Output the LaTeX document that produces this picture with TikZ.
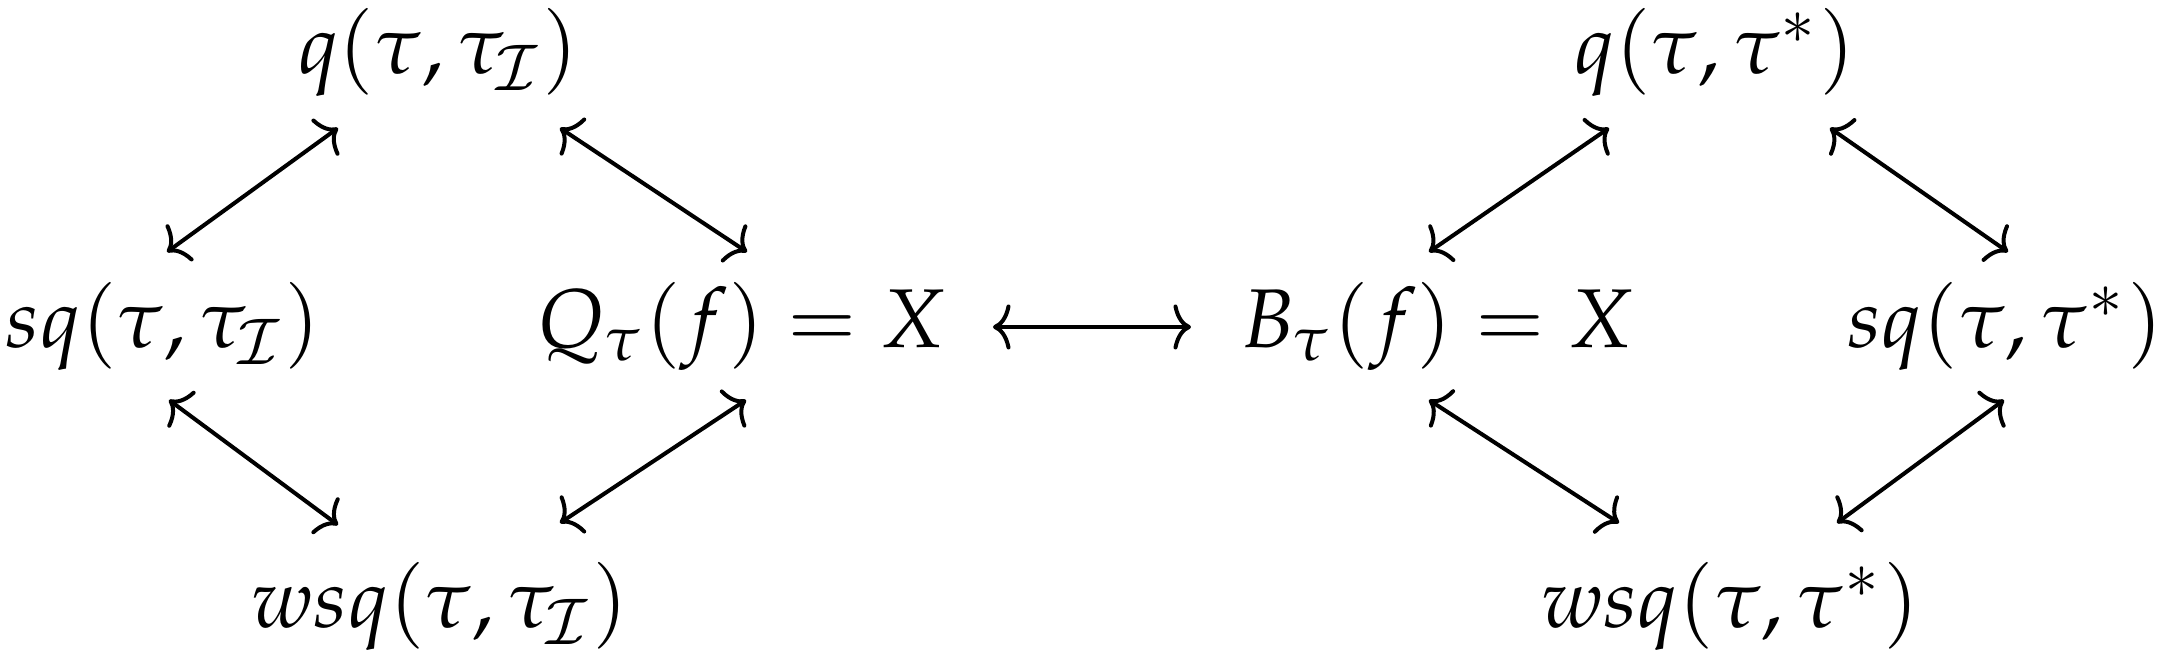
\documentclass[tikz,border=0pt]{standalone}
\usepackage{mathpazo}
\usetikzlibrary{arrows.meta}
\tikzset{
  lbl/.style={inner sep=0pt, anchor=base},
  arr/.style={line width=0.48pt, {Computer Modern Rightarrow[length=2.1pt,width=5.4pt]}-{Computer Modern Rightarrow[length=2.1pt,width=5.4pt]}}
}
\begin{document}
\begin{tikzpicture}[x=0.12pt, y=-0.12pt]
\useasboundingbox (0,0) rectangle (2171,660);
% left diamond
\node[lbl] (q1) at (438,74) {$q(\tau,\tau_{\mathcal{I}})$};
\node[lbl] (sq1) at (163,348) {$sq(\tau,\tau_{\mathcal{I}})$};
\node[lbl] (Q1) at (741,348) {$Q_\tau(f)=X$};
\node[lbl] (w1) at (440,628) {$wsq(\tau,\tau_{\mathcal{I}})$};
% right diamond
\node[lbl] (q2) at (1715,74) {$q(\tau,\tau^{*})$};
\node[lbl] (B2) at (1437,348) {$B_\tau(f)=X$};
\node[lbl] (sq2) at (2005,348) {$sq(\tau,\tau^{*})$};
\node[lbl] (w2) at (1730,628) {$wsq(\tau,\tau^{*})$};
% arrows left
\draw[arr] ([shift={(-100,54)}]q1.base) -- ([shift={(4,-96)}]sq1.base);
\draw[arr] ([shift={(122,54)}]q1.base) -- ([shift={(6,-96)}]Q1.base);
\draw[arr] ([shift={(6,52)}]sq1.base) -- ([shift={(-102,-103)}]w1.base);
\draw[arr] ([shift={(5,52)}]Q1.base) -- ([shift={(120,-105)}]w1.base);
% arrows right
\draw[arr] ([shift={(-106,54)}]q2.base) -- ([shift={(-8,-96)}]B2.base);
\draw[arr] ([shift={(115,54)}]q2.base) -- ([shift={(3,-96)}]sq2.base);
\draw[arr] ([shift={(-8,52)}]B2.base) -- ([shift={(-111,-105)}]w2.base);
\draw[arr] ([shift={(-1,52)}]sq2.base) -- ([shift={(107,-105)}]w2.base);
% middle
\draw[arr] ([shift={(252,-21)}]Q1.base) -- ([shift={(-246,-21)}]B2.base);
\end{tikzpicture}
\end{document}
